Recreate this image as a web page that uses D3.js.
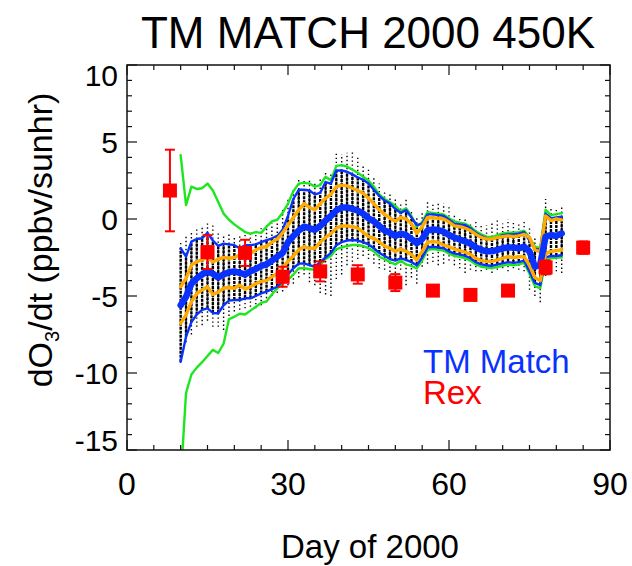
<!DOCTYPE html>
<html>
<head>
<meta charset="utf-8">
<script src="https://cdn.jsdelivr.net/npm/d3@7"></script>
<style>
  html, body { margin: 0; padding: 0; background: #fff; }
  svg { display: block; font-family: "Liberation Sans", Arial, Helvetica, sans-serif; }
</style>
</head>
<body>
<svg id="chart" width="632" height="566"></svg>
<script>
// ---------------- DATA ----------------
const days = [10,11,12,13,14,15,16,17,18,19,20,21,22,23,24,25,26,27,28,29,30,31,32,33,34,35,36,37,38,39,40,41,42,43,44,45,
  46,47,48,49,50,51,52,53,54,55,56,57,58,59,60,61,62,63,64,65,66,67,68,69,70,71,72,73,74,75,76,77,78,79,80,81];

const median = [-5.6,-5.05,-4.2,-3.85,-3.6,-3.4,-3.55,-3.8,-3.6,-3.45,-3.4,-3.5,-3.6,-3.4,-3.25,-3.05,-2.95,-2.7,-2.45,-2.2,
  -1.5,-1.1,-0.75,-0.5,-0.6,-0.7,-0.45,-0.1,0.2,0.55,0.75,0.75,0.65,0.55,0.35,0.05,-0.15,-0.45,-0.75,-0.9,
  -1.1,-0.95,-1.05,-1.3,-1.58,-1.3,-0.75,-0.68,-0.72,-0.82,-1.04,-1.2,-1.33,-1.45,-1.6,-1.85,-2.0,-2.1,-2.1,-2.0,
  -1.9,-1.85,-1.85,-1.9,-1.8,-2.1,-3.1,-2.95,-1.15,-1.04,-1.1,-0.93];

const q75 = [-4.4,-3.85,-3.0,-2.77,-2.66,-2.45,-2.8,-2.6,-2.5,-2.55,-2.5,-2.34,-2.5,-2.25,-2.0,-1.85,-1.8,-1.5,-1.3,-0.9,
  -0.4,0.1,0.6,1.0,0.75,0.6,1.0,1.35,1.6,2.1,2.2,2.15,2.0,1.85,1.67,1.35,1.0,0.6,0.3,0.05,
  -0.15,0.1,0.0,-0.3,-0.93,-0.5,0.1,0.08,0.05,0.0,-0.2,-0.45,-0.5,-0.6,-0.75,-1.0,-1.2,-1.3,-1.3,-1.2,
  -1.15,-1.1,-1.15,-1.1,-1.0,-1.2,-2.0,-2.15,0.2,-0.1,0.0,-0.06];

const q25 = [-6.78,-6.23,-5.37,-4.85,-4.6,-4.4,-4.9,-4.75,-4.5,-4.45,-4.5,-4.3,-4.55,-4.4,-4.2,-4.05,-4.0,-3.75,-3.55,-3.15,
  -2.75,-2.4,-2.0,-1.8,-1.9,-1.9,-1.5,-1.2,-0.95,-0.6,-0.45,-0.45,-0.5,-0.6,-0.85,-1.15,-1.25,-1.5,-1.75,-1.9,
  -2.1,-1.95,-2.1,-2.3,-2.66,-2.1,-1.5,-1.47,-1.5,-1.7,-1.8,-1.95,-2.05,-2.15,-2.3,-2.55,-2.7,-2.75,-2.75,-2.65,
  -2.55,-2.45,-2.5,-2.45,-2.45,-3.0,-3.8,-4.0,-2.25,-2.1,-2.06,-2.0];

const p90 = [-1.9,-2.45,-1.47,-1.3,-1.25,-0.9,-1.4,-1.75,-1.6,-1.65,-1.7,-1.9,-1.7,-1.7,-1.65,-1.5,-1.38,-1.25,-1.1,-0.7,
  0.2,1.3,1.9,1.9,1.85,1.6,1.7,2.4,2.3,3.15,3.15,3.07,2.9,2.7,2.55,2.3,1.9,1.5,1.2,1.0,
  0.65,0.4,0.58,0.1,-0.4,-0.3,0.3,0.3,0.25,0.2,-0.05,-0.3,-0.35,-0.4,-0.6,-0.9,-1.1,-1.25,-1.3,-1.2,
  -1.05,-1.0,-1.0,-0.95,-0.85,-1.4,-1.95,-2.0,0.35,0.05,0.1,0.15];

const p10 = [-9.27,-7.64,-6.7,-6.2,-5.9,-5.8,-6.1,-6.12,-5.6,-5.3,-5.26,-5.26,-5.15,-5.15,-5.0,-4.83,-4.72,-4.55,-4.4,-4.0,
  -3.6,-3.2,-2.9,-2.88,-3.0,-3.1,-2.8,-2.5,-2.2,-1.7,-1.5,-1.4,-1.36,-1.4,-1.5,-1.65,-1.9,-2.2,-2.4,-2.6,
  -2.7,-2.55,-2.65,-2.8,-3.0,-2.5,-1.85,-1.8,-1.85,-1.9,-2.1,-2.25,-2.3,-2.4,-2.55,-2.8,-2.95,-3.0,-3.05,-2.95,
  -2.88,-2.8,-2.85,-2.8,-2.7,-3.4,-4.15,-4.3,-2.5,-2.4,-2.4,-2.35];

const maxLine = [4.15,0.9,2.1,1.95,2.0,2.3,1.85,1.1,0.35,-0.05,-0.35,-0.6,-0.85,-0.95,-0.85,-0.9,-0.5,-0.15,-0.05,0.4,
  1.0,1.8,2.3,2.35,2.3,2.1,2.2,2.75,2.5,3.45,3.5,3.4,3.2,3.0,2.75,2.5,2.1,1.6,1.3,1.1,
  0.85,0.5,0.7,0.2,-0.5,-0.2,0.45,0.4,0.35,0.3,0.05,-0.15,-0.24,-0.3,-0.5,-0.8,-1.0,-1.15,-1.17,-1.05,
  -0.93,-0.89,-0.89,-0.85,-0.76,-1.2,-1.8,-1.9,0.6,0.25,0.32,0.37];

const minLine = [-17,-11.3,-10.1,-9.65,-9.3,-8.9,-8.5,-8.7,-8.1,-6.5,-6.35,-6.15,-6.2,-5.95,-5.7,-5.45,-5.35,-4.9,-4.5,-4.2,
  -3.95,-3.6,-3.2,-3.2,-3.25,-3.31,-3.0,-2.6,-2.4,-1.95,-1.85,-1.75,-1.69,-1.69,-1.75,-1.9,-2.1,-2.45,-2.6,-2.8,
  -2.95,-2.7,-2.95,-3.05,-3.2,-2.7,-2.0,-1.95,-2.0,-2.05,-2.25,-2.4,-2.45,-2.55,-2.7,-2.95,-3.1,-3.15,-3.2,-3.1,
  -3.05,-2.95,-3.0,-2.95,-2.85,-3.55,-4.35,-4.5,-2.7,-2.55,-2.5,-2.5];

// extent of the individual scattered trajectory values per day
const dotTop = [-1.5,-1.0,-0.8,-0.6,-0.5,-0.3,-0.4,-0.8,-1.0,-1.0,-1.1,-1.0,-0.7,-0.8,-0.7,-0.6,-0.4,-0.3,-0.2,0.6,
  1.4,2.0,2.6,2.6,2.5,2.4,2.6,3.1,3.0,4.4,4.2,4.3,4.4,4.0,3.5,3.2,2.8,2.3,1.9,1.6,
  1.4,1.0,1.3,0.6,0.2,0.4,1.1,1.0,1.1,1.0,0.9,0.3,0.1,0.0,-0.2,-0.1,-0.3,-0.4,-0.2,-0.1,
  -0.3,0.0,-0.1,-0.3,-0.2,-0.6,-1.2,-1.6,1.3,0.7,0.7,0.8];
const dotBot = [-8.4,-8.0,-7.5,-7.0,-6.9,-6.6,-7.0,-7.0,-7.2,-6.3,-6.0,-5.9,-5.8,-5.7,-5.8,-5.6,-5.4,-5.0,-4.8,-4.7,
  -4.3,-4.2,-3.8,-3.6,-4.1,-4.3,-4.8,-4.9,-5.0,-3.9,-3.6,-3.0,-3.3,-2.6,-2.4,-2.6,-2.9,-3.2,-3.3,-3.7,
  -3.5,-3.3,-4.3,-3.8,-4.2,-3.1,-2.9,-2.8,-3.0,-2.9,-2.7,-3.0,-3.2,-3.5,-3.3,-3.4,-3.4,-3.3,-3.5,-3.3,
  -3.2,-3.4,-3.2,-3.3,-3.4,-4.6,-5.0,-5.4,-3.7,-3.6,-3.4,-3.5];

// Rex observations
const rexDays = [8, 15, 22, 29, 36, 43, 50, 57, 64, 71, 78, 85];
const rexVals = [1.85, -2.15, -2.2, -3.75, -3.4, -3.6, -4.13, -4.65, -4.93, -4.65, -3.14, -1.86];
const rexErr  = [2.65, 1.1, 0.85, 0.65, 0.65, 0.6, 0.55, 0.3, 0.3, 0.3, 0.45, 0.4];

const xTicks = [0, 30, 60, 90];
const yTicks = [-15, -10, -5, 0, 5, 10];
const titleText = "TM MATCH 2000 450K";
const legendItems = ["TM Match", "Rex"];

// ---------------- DRAW ----------------
const svg = d3.select("#chart");
const L = 127, R = 610, T = 65, B = 450;
const x = d3.scaleLinear().domain([0, 90]).range([L, R]);
const y = d3.scaleLinear().domain([-15, 10]).range([B, T]);

const BLUE = "#0a32ff", GREEN = "#1ee61e", ORANGE = "#ffaa00", RED = "#ff0000";

svg.append("defs").append("clipPath").attr("id", "clip")
  .append("rect").attr("x", L).attr("y", T).attr("width", R - L).attr("height", B - T);

const plot = svg.append("g").attr("clip-path", "url(#clip)");

const rows = days.map((d, i) => ({ d, i }));

// scattered values: sparse dotted columns
plot.append("g").selectAll("line").data(rows).join("line")
  .attr("x1", r => x(r.d)).attr("x2", r => x(r.d))
  .attr("y1", r => y(dotBot[r.i])).attr("y2", r => y(dotTop[r.i]))
  .attr("stroke", "#000").attr("stroke-width", 1.4)
  .attr("stroke-dasharray", "1.4,2.6");
// dense core of each column
plot.append("g").selectAll("line").data(rows).join("line")
  .attr("x1", r => x(r.d)).attr("x2", r => x(r.d))
  .attr("y1", r => y(p10[r.i])).attr("y2", r => y(p90[r.i]))
  .attr("stroke", "#000").attr("stroke-width", 2.4)
  .attr("stroke-dasharray", "3,1");

const line = arr => d3.line().x((d, i) => x(days[i])).y(v => y(v))(arr);
function drawLine(arr, color, w) {
  plot.append("path").attr("d", line(arr)).attr("fill", "none")
    .attr("stroke", color).attr("stroke-width", w)
    .attr("stroke-linejoin", "round").attr("stroke-linecap", "round");
}
drawLine(maxLine, GREEN, 2.4);
drawLine(minLine, GREEN, 2.4);
drawLine(p90, BLUE, 2.4);
drawLine(p10, BLUE, 2.4);
drawLine(q75, ORANGE, 3.4);
drawLine(q25, ORANGE, 3.4);
drawLine(median, BLUE, 6.5);

// Rex points with error bars
const rex = rexDays.map((d, i) => ({ d, v: rexVals[i], e: rexErr[i] }));
const rg = svg.append("g");
rg.selectAll("line.eb").data(rex).join("line").attr("class", "eb")
  .attr("x1", r => x(r.d)).attr("x2", r => x(r.d))
  .attr("y1", r => y(r.v - r.e)).attr("y2", r => y(r.v + r.e))
  .attr("stroke", RED).attr("stroke-width", 2);
["top", "bot"].forEach(k => {
  rg.selectAll("line.cap" + k).data(rex).join("line").attr("class", "cap" + k)
    .attr("x1", r => x(r.d) - 5).attr("x2", r => x(r.d) + 5)
    .attr("y1", r => y(k === "top" ? r.v + r.e : r.v - r.e))
    .attr("y2", r => y(k === "top" ? r.v + r.e : r.v - r.e))
    .attr("stroke", RED).attr("stroke-width", 2);
});
rg.selectAll("rect").data(rex).join("rect")
  .attr("x", r => x(r.d) - 7).attr("y", r => y(r.v) - 7)
  .attr("width", 14).attr("height", 14).attr("fill", RED);

// Axes frame with inward ticks on all four sides
const axisG = svg.append("g").attr("stroke", "#111");
axisG.append("rect").attr("x", L).attr("y", T).attr("width", R - L).attr("height", B - T)
  .attr("fill", "none").attr("stroke-width", 1.5);

const xMinor = d3.range(0, 91, 5);
const yMinor = d3.range(-15, 11, 1);
xMinor.forEach(v => {
  const len = v % 30 === 0 ? 10 : 5;
  axisG.append("line").attr("x1", x(v)).attr("x2", x(v)).attr("y1", B).attr("y2", B - len).attr("stroke-width", 1.2);
  axisG.append("line").attr("x1", x(v)).attr("x2", x(v)).attr("y1", T).attr("y2", T + len).attr("stroke-width", 1.2);
});
yMinor.forEach(v => {
  const len = v % 5 === 0 ? 10 : 5;
  axisG.append("line").attr("x1", L).attr("x2", L + len).attr("y1", y(v)).attr("y2", y(v)).attr("stroke-width", 1.2);
  axisG.append("line").attr("x1", R).attr("x2", R - len).attr("y1", y(v)).attr("y2", y(v)).attr("stroke-width", 1.2);
});

// tick labels
svg.append("g").selectAll("text").data(xTicks).join("text")
  .attr("x", v => x(v)).attr("y", 495)
  .attr("text-anchor", "middle").attr("font-size", 32).attr("fill", "#000")
  .text(v => v);
svg.append("g").selectAll("text").data(yTicks).join("text")
  .attr("x", 118)
  .attr("y", v => y(v) + (v === 10 ? 10 : v === -15 ? -10 : 0))
  .attr("dy", "0.36em")
  .attr("text-anchor", "end").attr("font-size", 30).attr("fill", "#000")
  .text(v => v);

// title
svg.append("text").attr("x", 368).attr("y", 48).attr("text-anchor", "middle")
  .attr("font-size", 44).attr("fill", "#000").text(titleText);

// axis titles
svg.append("text").attr("x", 370).attr("y", 558).attr("text-anchor", "middle")
  .attr("font-size", 33).attr("fill", "#000").text("Day of 2000");

const yl = svg.append("text").attr("transform", "translate(52,240) rotate(-90)")
  .attr("text-anchor", "middle").attr("font-size", 34).attr("fill", "#000");
yl.append("tspan").text("dO");
yl.append("tspan").attr("font-size", 20).attr("dy", 7).text("3");
yl.append("tspan").attr("dy", -7).text("/dt (ppbv/sunhr)");

// legend
svg.append("text").attr("x", 423).attr("y", 373).attr("font-size", 33).attr("fill", BLUE).text(legendItems[0]);
svg.append("text").attr("x", 423).attr("y", 404).attr("font-size", 33).attr("fill", RED).text(legendItems[1]);
</script>
</body>
</html>
